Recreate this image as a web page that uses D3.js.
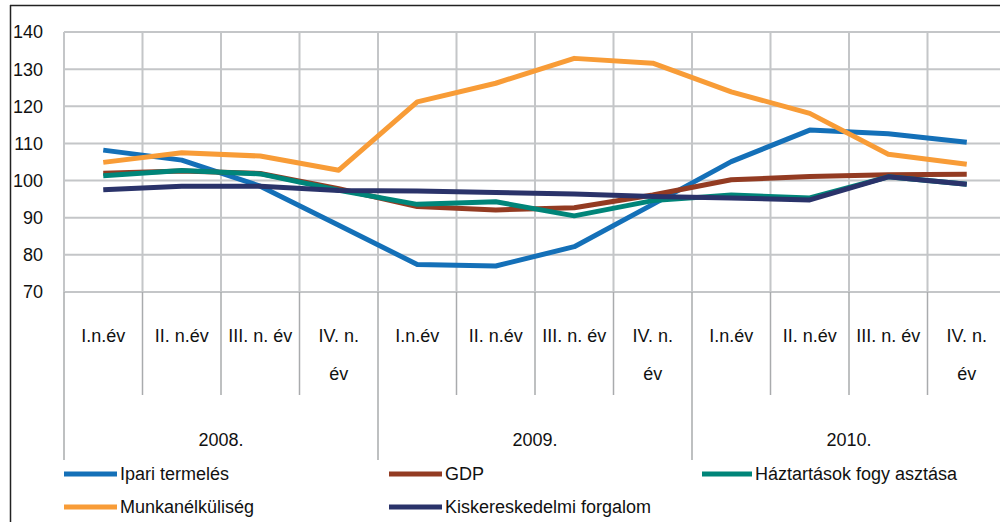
<!DOCTYPE html>
<html><head><meta charset="utf-8">
<script src="https://cdn.jsdelivr.net/npm/d3@7/dist/d3.min.js"></script>
<style>
body{margin:0;background:#fff;}
svg text{font-family:"Liberation Sans Narrow","Arial Narrow","Liberation Sans",Arial,sans-serif;fill:#111;}
</style></head><body>
<svg id="c" width="1000" height="522"></svg>
<script>
const quarters = ["I.n.év","II. n.év","III. n. év","IV. n.|év","I.n.év","II. n.év","III. n. év","IV. n.|év","I.n.év","II. n.év","III. n. év","IV. n.|év"];
const years = ["2008.","2009.","2010."];
const yTicks = [70,80,90,100,110,120,130,140];
const ipari = [108.2,105.5,98.5,88.0,77.4,77.0,82.2,93.6,105.1,113.6,112.6,110.3];
const gdp = [102.0,102.6,101.9,97.8,93.0,92.1,92.7,96.1,100.2,101.1,101.6,101.7];
const haztartas = [101.3,102.7,101.8,97.4,93.6,94.3,90.5,94.6,96.1,95.3,101.0,99.0];
const munka = [104.9,107.5,106.6,102.8,121.2,126.2,132.9,131.6,123.9,118.1,107.1,104.4];
const kisker = [97.5,98.5,98.5,97.3,97.2,96.8,96.4,95.7,95.3,94.8,101.0,99.0];
const seriesNames = ["Ipari termelés","GDP","Háztartások fogy asztása","Munkanélküliség","Kiskereskedelmi forgalom"];
const seriesColors = ["#1470b8","#933b22","#008579","#f89c37","#2a336a"];
const seriesData = [ipari,gdp,haztartas,munka,kisker];

const svg = d3.select("#c");
const L = 64, R = 1006, T = 32, B = 292;
const x = d3.scaleBand().domain(d3.range(12)).range([L,R]);
const y = d3.scaleLinear().domain([70,140]).range([B,T]);
const fs = 18;

// outer frame
svg.append("line").attr("x1",10.5).attr("x2",10.5).attr("y1",5).attr("y2",522).attr("stroke","#222").attr("stroke-width",1.5);
svg.append("line").attr("x1",10).attr("x2",1000).attr("y1",5.5).attr("y2",5.5).attr("stroke","#222").attr("stroke-width",1.5);

const grid = "#c4c6c8";
// horizontal grid
svg.append("g").selectAll("line").data(yTicks).join("line")
  .attr("x1",L).attr("x2",R).attr("y1",d=>y(d)).attr("y2",d=>y(d))
  .attr("stroke",grid).attr("stroke-width",2);
// vertical grid
svg.append("g").selectAll("line").data(d3.range(13)).join("line")
  .attr("x1",i=>i<12?x(i):R).attr("x2",i=>i<12?x(i):R)
  .attr("y1",T).attr("y2",B).attr("stroke",grid).attr("stroke-width",2);
// category separators below axis
svg.append("g").selectAll("line").data(d3.range(12)).join("line")
  .attr("x1",i=>x(i)).attr("x2",i=>x(i))
  .attr("y1",B).attr("y2",i=>i%4===0?460:395)
  .attr("stroke","#a9abad").attr("stroke-width",1.5);

// y labels
svg.append("g").selectAll("text").data(yTicks).join("text")
  .attr("x",43).attr("y",d=>y(d)).attr("dy","0.36em").attr("text-anchor","end")
  .attr("font-size",fs).text(d=>d);

// category labels
const cl = svg.append("g").selectAll("text").data(quarters).join("text")
  .attr("text-anchor","middle").attr("font-size",fs);
cl.each(function(d,i){
  const parts = d.split("|");
  const t = d3.select(this);
  parts.forEach((p,j)=>{
    t.append("tspan").attr("x",x(i)+x.bandwidth()/2).attr("y",336+j*38).attr("dy","0.36em").text(p);
  });
});
// year labels
svg.append("g").selectAll("text").data(years).join("text")
  .attr("x",(d,i)=>x(i*4)+x.bandwidth()*2).attr("y",440).attr("dy","0.36em")
  .attr("text-anchor","middle").attr("font-size",fs).text(d=>d);

// lines
const line = d3.line().x((d,i)=>x(i)+x.bandwidth()/2).y(d=>y(d));
seriesData.forEach((s,k)=>{
  svg.append("path").datum(s).attr("d",line).attr("fill","none")
    .attr("stroke",seriesColors[k]).attr("stroke-width",5).attr("stroke-linejoin","round");
});

// legend
const legPos = [[64,474],[389,474],[702,474],[64,507],[389,507]];
const lg = svg.append("g").selectAll("g").data(seriesNames).join("g")
  .attr("transform",(d,i)=>`translate(${legPos[i][0]},${legPos[i][1]})`);
lg.append("line").attr("x1",0).attr("x2",(d,i)=>i===2?50:53).attr("y1",0).attr("y2",0)
  .attr("stroke",(d,i)=>seriesColors[i]).attr("stroke-width",5);
lg.append("text").attr("x",(d,i)=>i===2?53:56).attr("y",0).attr("dy","0.36em")
  .attr("font-size",fs).text(d=>d);
</script>
</body></html>
